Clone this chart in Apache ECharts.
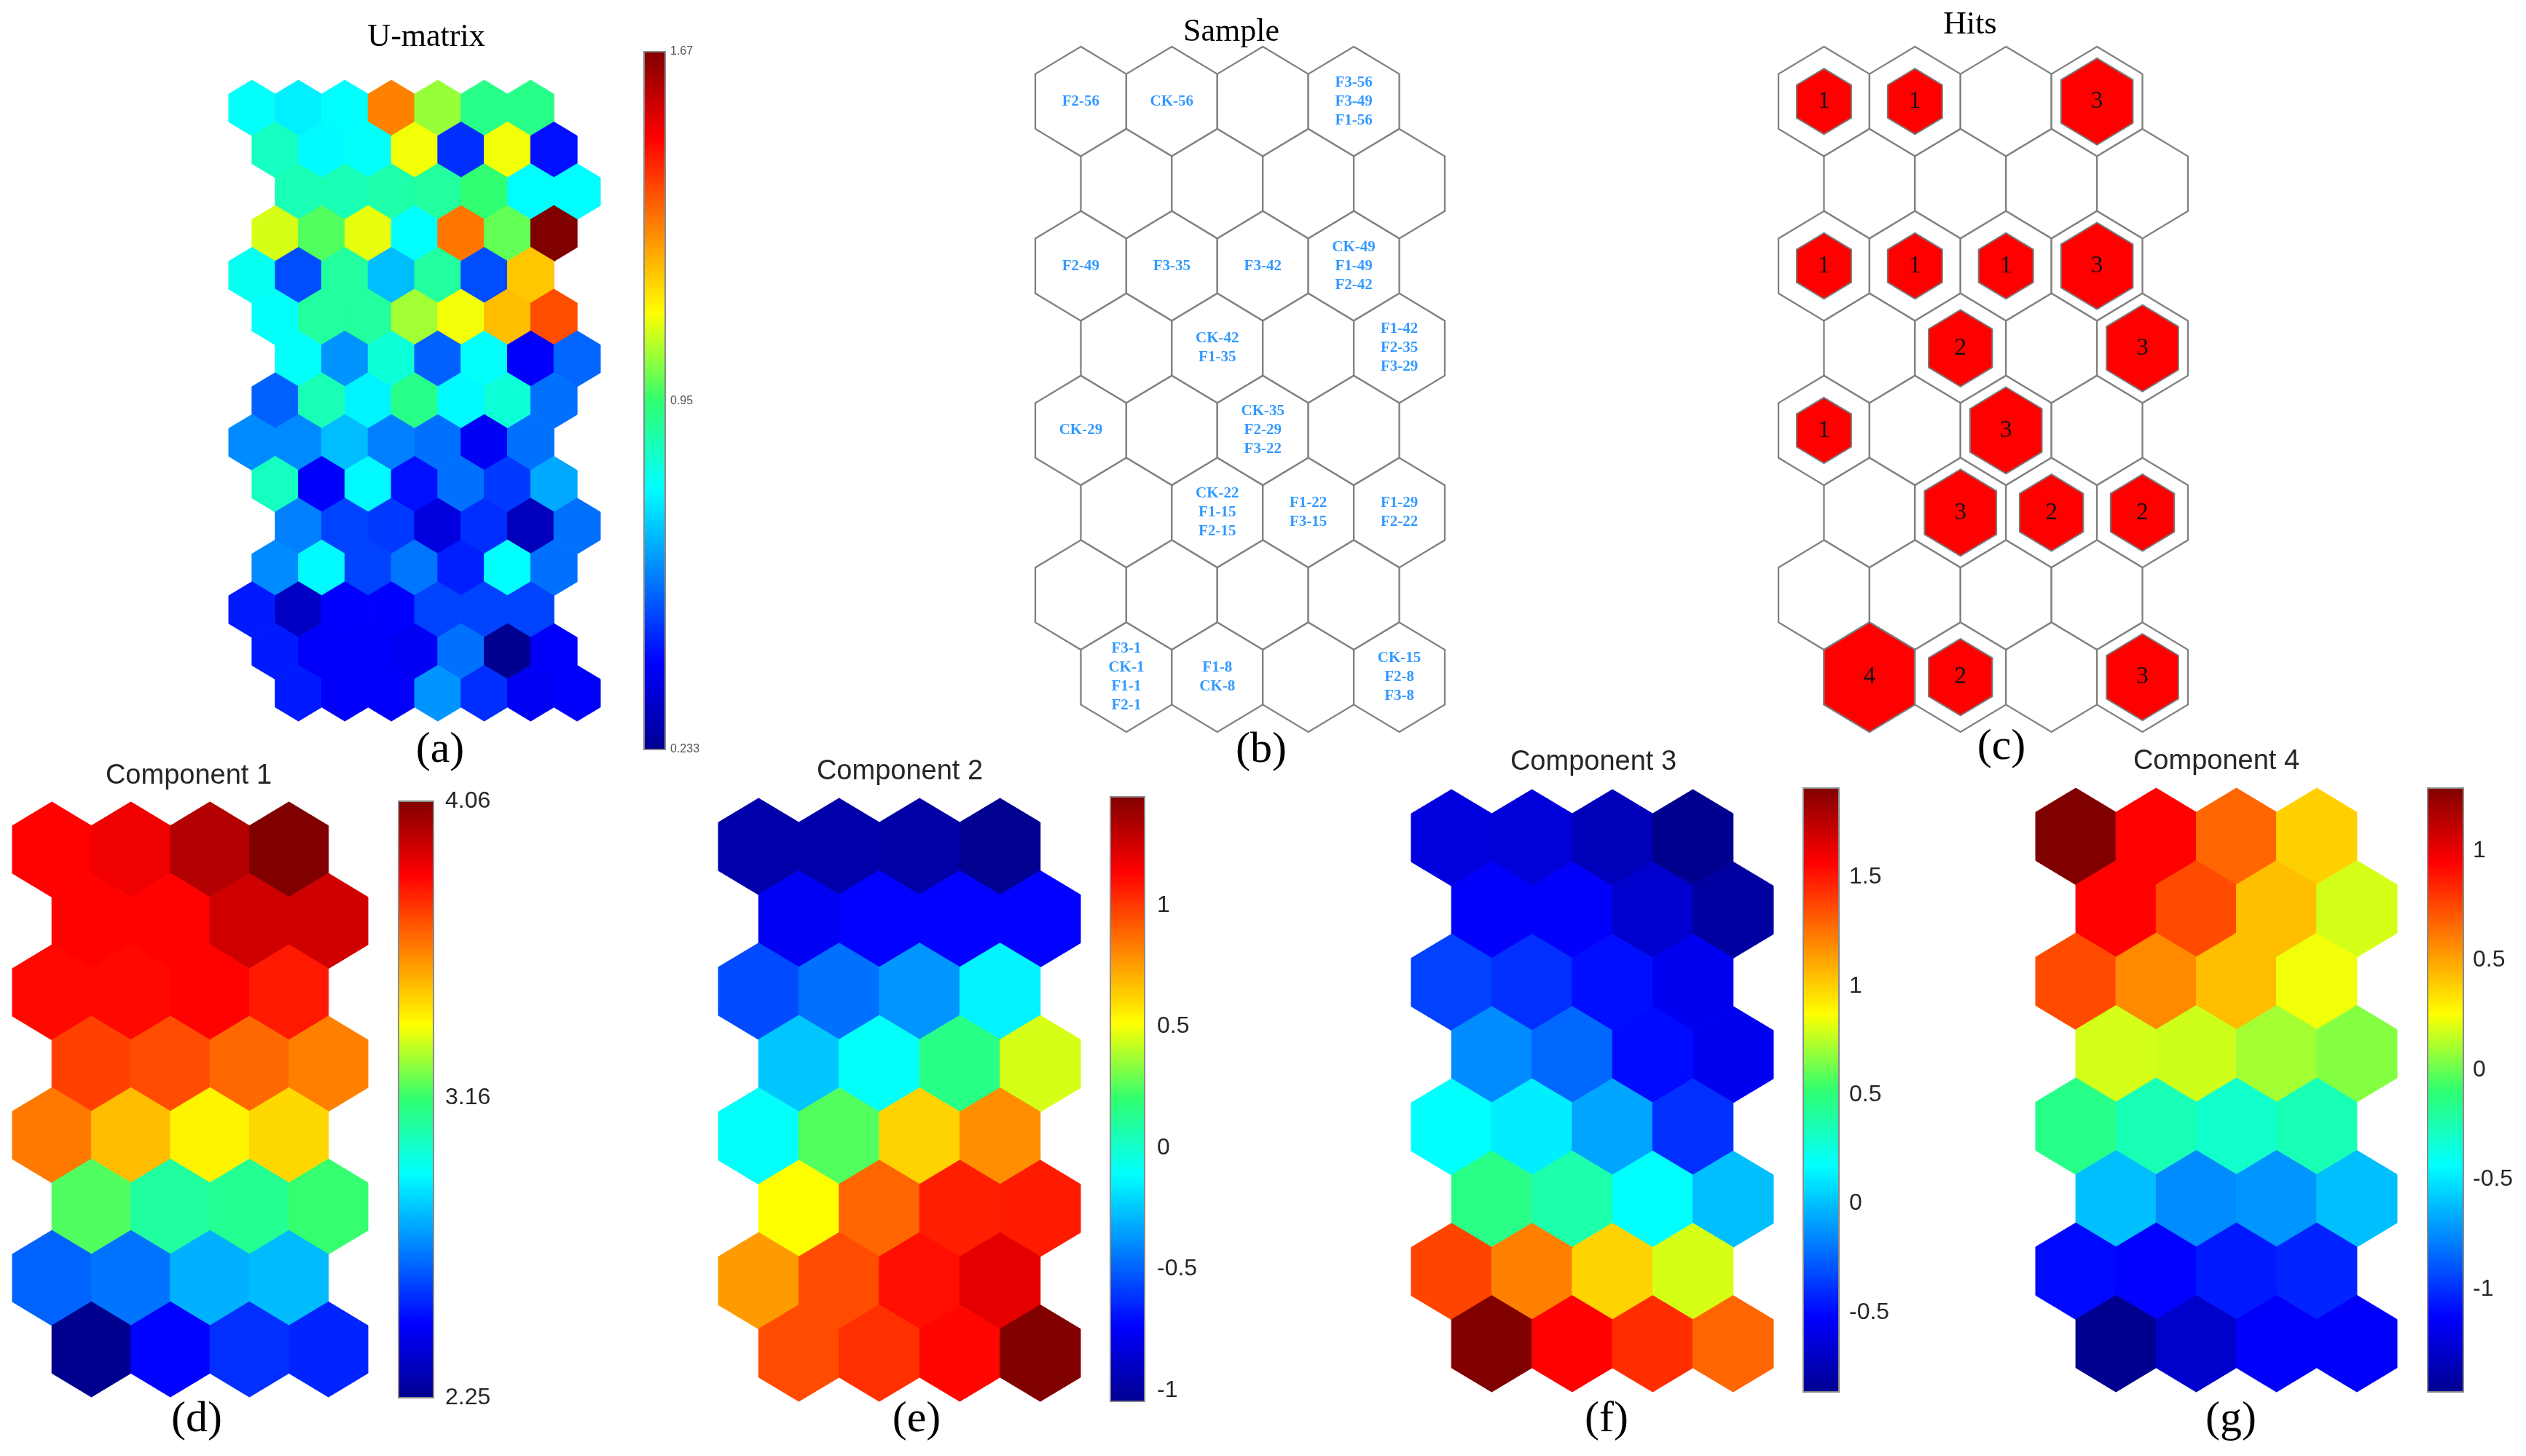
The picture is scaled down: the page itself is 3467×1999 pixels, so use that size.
<!DOCTYPE html>
<html>
<head>
<meta charset="utf-8">
<title>SOM maps</title>
<script src="https://cdn.jsdelivr.net/npm/echarts@6/dist/echarts.min.js"></script>
<style>
  html, body { margin: 0; padding: 0; background: #fff; }
  #chart { width: 3467px; height: 1999px; }
</style>
</head>
<body>
<div id="chart"></div>
<script>
// U-matrix, 15 rows x 7 cells
const uMatrix = [
  [0.78, 0.75, 0.77, 1.31, 1.04, 0.92, 0.92],
  [0.85, 0.765, 0.78, 1.12, 0.477, 1.12, 0.434],
  [0.865, 0.865, 0.88, 0.894, 0.95, 0.77, 0.77],
  [1.095, 0.98, 1.11, 0.77, 1.325, 0.995, 1.67],
  [0.79, 0.52, 0.894, 0.678, 0.894, 0.52, 1.21],
  [0.78, 0.894, 0.894, 1.05, 1.12, 1.225, 1.383],
  [0.78, 0.62, 0.822, 0.549, 0.78, 0.405, 0.556],
  [0.549, 0.865, 0.757, 0.92, 0.765, 0.822, 0.571],
  [0.607, 0.607, 0.678, 0.592, 0.571, 0.391, 0.571],
  [0.851, 0.405, 0.765, 0.434, 0.571, 0.492, 0.65],
  [0.592, 0.506, 0.492, 0.362, 0.477, 0.305, 0.571],
  [0.607, 0.765, 0.506, 0.578, 0.456, 0.772, 0.571],
  [0.449, 0.319, 0.413, 0.413, 0.506, 0.506, 0.506],
  [0.449, 0.405, 0.405, 0.391, 0.571, 0.235, 0.405],
  [0.449, 0.405, 0.405, 0.62, 0.477, 0.391, 0.405]
];
const uRange = [0.233, 1.67];
const uTicks = [0.233, 0.95, 1.67];

// component planes, 8 rows x 4 neurons
const component1 = [
  [3.83, 3.86, 3.97, 4.06],
  [3.83, 3.83, 3.92, 3.92],
  [3.82, 3.82, 3.83, 3.79],
  [3.72, 3.70, 3.65, 3.61],
  [3.62, 3.50, 3.40, 3.45],
  [3.19, 3.08, 3.10, 3.16],
  [2.65, 2.68, 2.79, 2.81],
  [2.25, 2.48, 2.56, 2.54]
];
const component1Range = [2.25, 4.06];
const component1Ticks = [2.25, 3.16, 4.06];

const component2 = [
  [-0.97, -0.97, -0.98, -1.04],
  [-0.77, -0.73, -0.73, -0.73],
  [-0.55, -0.46, -0.37, -0.14],
  [-0.25, -0.10, 0.15, 0.45],
  [-0.10, 0.25, 0.62, 0.79],
  [0.51, 0.89, 1.06, 1.07],
  [0.76, 0.95, 1.10, 1.20],
  [0.95, 1.02, 1.12, 1.445]
];
const component2Range = [-1.045, 1.447];
const component2Ticks = [-1, -0.5, 0, 0.5, 1];

const component3 = [
  [-0.62, -0.64, -0.73, -0.865],
  [-0.53, -0.53, -0.67, -0.81],
  [-0.34, -0.39, -0.48, -0.56],
  [-0.14, -0.24, -0.49, -0.56],
  [0.18, 0.13, -0.07, -0.39],
  [0.47, 0.38, 0.18, 0.0],
  [1.38, 1.22, 0.99, 0.80],
  [1.91, 1.56, 1.44, 1.29]
];
const component3Range = [-0.865, 1.91];
const component3Ticks = [-0.5, 0, 0.5, 1, 1.5];

const component4 = [
  [1.286, 0.94, 0.67, 0.38],
  [0.94, 0.74, 0.43, 0.18],
  [0.74, 0.57, 0.43, 0.23],
  [0.18, 0.17, 0.10, 0.05],
  [-0.15, -0.26, -0.31, -0.26],
  [-0.61, -0.75, -0.72, -0.61],
  [-1.10, -1.12, -1.06, -1.03],
  [-1.468, -1.28, -1.14, -1.14]
];
const component4Range = [-1.468, 1.286];
const component4Ticks = [-1, -0.5, 0, 0.5, 1];

const sampleLabels = [
  ["F2-56", "CK-56", "", "F3-56\nF3-49\nF1-56"],
  ["", "", "", ""],
  ["F2-49", "F3-35", "F3-42", "CK-49\nF1-49\nF2-42"],
  ["", "CK-42\nF1-35", "", "F1-42\nF2-35\nF3-29"],
  ["CK-29", "", "CK-35\nF2-29\nF3-22", ""],
  ["", "CK-22\nF1-15\nF2-15", "F1-22\nF3-15", "F1-29\nF2-22"],
  ["", "", "", ""],
  ["F3-1\nCK-1\nF1-1\nF2-1", "F1-8\nCK-8", "", "CK-15\nF2-8\nF3-8"]
];

const hitCounts = [
  [1, 1, 0, 3],
  [0, 0, 0, 0],
  [1, 1, 1, 3],
  [0, 2, 0, 3],
  [1, 0, 3, 0],
  [0, 3, 2, 2],
  [0, 0, 0, 0],
  [4, 2, 0, 3]
];

// styling
const jetColors = ["#00008f", "#0000ff", "#0080ff", "#00ffff", "#30ff70", "#ffff00", "#ff8000", "#ff0000", "#800000"];
const hitScale = [0, 0.6, 0.7, 0.79, 1.0];
const serif = '"Liberation Serif", "Times New Roman", serif';
const sans = '"Liberation Sans", Arial, sans-serif';

const chart = echarts.init(document.getElementById("chart"));

const grids = [];
const xAxes = [];
const yAxes = [];
const series = [];
const visualMaps = [];

function hexPoints(api, cx, cy, s) {
  const pts = [[0, -2 / 3], [0.5, -1 / 3], [0.5, 1 / 3], [0, 2 / 3], [-0.5, 1 / 3], [-0.5, -1 / 3]];
  return pts.map((p) => api.coord([cx + p[0] * s, cy + p[1] * s]));
}

function addHexGrid(box, maxX, rows) {
  const i = grids.length;
  grids.push({ left: box[0], top: box[1], width: box[2], height: box[3] });
  xAxes.push({ gridIndex: i, type: "value", min: -0.5, max: maxX + 0.5, show: false });
  yAxes.push({ gridIndex: i, type: "value", min: -2 / 3, max: rows - 1 + 2 / 3, inverse: true, show: false });
  return i;
}

function renderFilledHex(params, api) {
  const color = api.visual("color");
  return {
    type: "polygon",
    shape: { points: hexPoints(api, api.value(0), api.value(1), 1) },
    style: { fill: color, stroke: color, lineWidth: 1 },
  };
}

function addHeatPanel(values, range, box, offsetOf) {
  const rows = values.length;
  const cols = values[0].length;
  let maxX = 0;
  const data = [];
  values.forEach((row, r) => {
    row.forEach((v, c) => {
      const x = c + offsetOf(r);
      maxX = Math.max(maxX, x);
      data.push([x, r, v]);
    });
  });
  const gi = addHexGrid(box, maxX, rows);
  visualMaps.push({
    type: "continuous",
    show: false,
    seriesIndex: series.length,
    dimension: 2,
    min: range[0],
    max: range[1],
    inRange: { color: jetColors },
  });
  series.push({
    type: "custom",
    xAxisIndex: gi,
    yAxisIndex: gi,
    encode: { x: 0, y: 1 },
    renderItem: renderFilledHex,
    data: data,
    silent: true,
  });
}

function renderColorbar(params, api) {
  const p0 = api.coord([api.value(0), api.value(3)]);
  const p1 = api.coord([api.value(2), api.value(1)]);
  const stops = jetColors.map((c, i) => ({ offset: i / (jetColors.length - 1), color: jetColors[jetColors.length - 1 - i] }));
  return {
    type: "rect",
    shape: { x: p0[0], y: p0[1], width: p1[0] - p0[0], height: p1[1] - p0[1] },
    style: {
      fill: { type: "linear", x: 0, y: 0, x2: 0, y2: 1, colorStops: stops },
      stroke: "#8a8a8a",
      lineWidth: 2,
    },
  };
}

function addColorbar(box, range, ticks, label) {
  const i = grids.length;
  grids.push({ left: box[0], top: box[1], width: box[2], height: box[3] });
  xAxes.push({ gridIndex: i, type: "value", min: 0, max: 1, show: false });
  yAxes.push({
    gridIndex: i,
    type: "value",
    min: range[0],
    max: range[1],
    position: "right",
    axisLine: { show: true, onZero: false, lineStyle: { color: "#3a3a3a", width: label.line } },
    axisTick: { show: true, inside: true, length: label.tick, customValues: ticks, lineStyle: { color: "#3a3a3a", width: label.line } },
    axisLabel: {
      customValues: ticks,
      margin: label.margin,
      fontSize: label.size,
      fontFamily: sans,
      color: label.color,
      formatter: (v) => String(v),
    },
    splitLine: { show: false },
  });
  series.push({
    type: "custom",
    xAxisIndex: i,
    yAxisIndex: i,
    encode: { x: [0, 2], y: [1, 3] },
    renderItem: renderColorbar,
    data: [[0, range[0], 1, range[1]]],
    silent: true,
  });
}

// hex offsets: u-matrix rows go 0, .5, 1, .5, 0 ...; map rows go 0, .5, 0, .5 ...
const uOffset = (r) => (r % 2 === 1 ? 0.5 : ((r / 2) % 2 === 1 ? 1 : 0));
const mapOffset = (r) => (r % 2 === 1 ? 0.5 : 0);

addHeatPanel(uMatrix, uRange, [314, 110, 510, 880], uOffset);
addColorbar([884, 71, 29, 958], uRange, uTicks, { size: 16, margin: 7, color: "#555", line: 1.5, tick: 4 });

const componentPanels = [
  { values: component1, range: component1Range, ticks: component1Ticks, box: [17, 1101, 488, 817], bar: [547, 1100, 48, 819], margin: 16 },
  { values: component2, range: component2Range, ticks: component2Ticks, box: [986, 1096, 497, 828], bar: [1524, 1094, 47, 830], margin: 17 },
  { values: component3, range: component3Range, ticks: component3Ticks, box: [1937, 1084, 497, 827], bar: [2475, 1082, 49, 829], margin: 14 },
  { values: component4, range: component4Range, ticks: component4Ticks, box: [2794, 1082, 496, 829], bar: [3332, 1082, 49, 829], margin: 13 },
];
componentPanels.forEach((p) => {
  addHeatPanel(p.values, p.range, p.box, mapOffset);
  addColorbar(p.bar, p.range, p.ticks, { size: 32, margin: p.margin, color: "#262626", line: 2, tick: 7 });
});

// sample labels panel
const sampleData = [];
const sampleTexts = [];
sampleLabels.forEach((row, r) => {
  row.forEach((t, c) => {
    sampleData.push([c + mapOffset(r), r]);
    sampleTexts.push(t);
  });
});
const sampleGrid = addHexGrid([1421, 64, 562, 941], 3.5, 8);
series.push({
  type: "custom",
  xAxisIndex: sampleGrid,
  yAxisIndex: sampleGrid,
  encode: { x: 0, y: 1 },
  data: sampleData,
  silent: true,
  renderItem: (params, api) => {
    const x = api.value(0);
    const y = api.value(1);
    const ctr = api.coord([x, y]);
    return {
      type: "group",
      children: [
        {
          type: "polygon",
          shape: { points: hexPoints(api, x, y, 1) },
          style: { fill: "#fff", stroke: "#808080", lineWidth: 2.3 },
        },
        {
          type: "text",
          x: ctr[0],
          y: ctr[1],
          style: {
            text: sampleTexts[params.dataIndex],
            fill: "#3399ff",
            font: "bold 21px " + serif,
            textAlign: "center",
            textVerticalAlign: "middle",
            lineHeight: 26,
          },
        },
      ],
    };
  },
});

// hits panel
const hitData = [];
hitCounts.forEach((row, r) => {
  row.forEach((h, c) => hitData.push([c + mapOffset(r), r, h]));
});
const hitGrid = addHexGrid([2441, 64, 562, 941], 3.5, 8);
series.push({
  type: "custom",
  xAxisIndex: hitGrid,
  yAxisIndex: hitGrid,
  encode: { x: 0, y: 1 },
  data: hitData,
  silent: true,
  renderItem: (params, api) => {
    const x = api.value(0);
    const y = api.value(1);
    const h = api.value(2);
    const children = [
      {
        type: "polygon",
        shape: { points: hexPoints(api, x, y, 1) },
        style: { fill: "#fff", stroke: "#808080", lineWidth: 2.3 },
      },
    ];
    if (h > 0) {
      const ctr = api.coord([x, y]);
      children.push({
        type: "polygon",
        shape: { points: hexPoints(api, x, y, hitScale[h]) },
        style: { fill: "#ff0000", stroke: "#7a7a7a", lineWidth: 2 },
      });
      children.push({
        type: "text",
        x: ctr[0],
        y: ctr[1],
        style: { text: String(h), fill: "#111", font: "33px " + serif, textAlign: "center", textVerticalAlign: "middle" },
      });
    }
    return { type: "group", children: children };
  },
});

// titles and panel letters
function label(text, x, y, font, color) {
  return {
    type: "text",
    x: x,
    y: y,
    silent: true,
    style: { text: text, font: font, fill: color, textAlign: "center", textVerticalAlign: "middle" },
  };
}
const titleFont = "44px " + serif;
const compFont = "38px " + sans;
const letterFont = "60px " + serif;
const graphics = [
  label("U-matrix", 585, 51, titleFont, "#000"),
  label("Sample", 1690, 44, titleFont, "#000"),
  label("Hits", 2704, 34, titleFont, "#000"),
  label("Component 1", 259, 1066, compFont, "#262626"),
  label("Component 2", 1235, 1060, compFont, "#262626"),
  label("Component 3", 2187, 1047, compFont, "#262626"),
  label("Component 4", 3042, 1046, compFont, "#262626"),
  label("(a)", 604, 1030, letterFont, "#000"),
  label("(b)", 1731, 1030, letterFont, "#000"),
  label("(c)", 2747, 1026, letterFont, "#000"),
  label("(d)", 270, 1949, letterFont, "#000"),
  label("(e)", 1258, 1949, letterFont, "#000"),
  label("(f)", 2205, 1949, letterFont, "#000"),
  label("(g)", 3062, 1949, letterFont, "#000"),
];

chart.setOption({
  backgroundColor: "#fff",
  animation: false,
  grid: grids,
  xAxis: xAxes,
  yAxis: yAxes,
  visualMap: visualMaps,
  series: series,
  graphic: graphics,
});
</script>
</body>
</html>
